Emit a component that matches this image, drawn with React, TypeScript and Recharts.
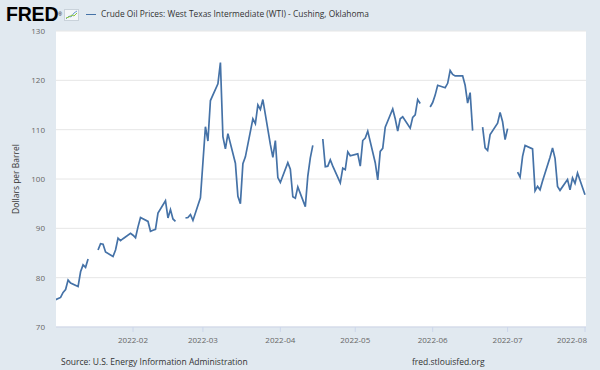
import { LineChart, Line, XAxis, YAxis, CartesianGrid } from 'recharts';

// observation dates (business days, holidays kept as null)
const dates = [
  '2021-12-31',
  '2022-01-03', '2022-01-04', '2022-01-05', '2022-01-06', '2022-01-07',
  '2022-01-10', '2022-01-11', '2022-01-12', '2022-01-13', '2022-01-14',
  '2022-01-17', '2022-01-18', '2022-01-19', '2022-01-20', '2022-01-21',
  '2022-01-24', '2022-01-25', '2022-01-26', '2022-01-27', '2022-01-28',
  '2022-01-31', '2022-02-01', '2022-02-02', '2022-02-03', '2022-02-04',
  '2022-02-07', '2022-02-08', '2022-02-09', '2022-02-10', '2022-02-11',
  '2022-02-14', '2022-02-15', '2022-02-16', '2022-02-17', '2022-02-18',
  '2022-02-21', '2022-02-22', '2022-02-23', '2022-02-24', '2022-02-25',
  '2022-02-28', '2022-03-01', '2022-03-02', '2022-03-03', '2022-03-04',
  '2022-03-07', '2022-03-08', '2022-03-09', '2022-03-10', '2022-03-11',
  '2022-03-14', '2022-03-15', '2022-03-16', '2022-03-17', '2022-03-18',
  '2022-03-21', '2022-03-22', '2022-03-23', '2022-03-24', '2022-03-25',
  '2022-03-28', '2022-03-29', '2022-03-30', '2022-03-31', '2022-04-01',
  '2022-04-04', '2022-04-05', '2022-04-06', '2022-04-07', '2022-04-08',
  '2022-04-11', '2022-04-12', '2022-04-13', '2022-04-14', '2022-04-15',
  '2022-04-18', '2022-04-19', '2022-04-20', '2022-04-21', '2022-04-22',
  '2022-04-25', '2022-04-26', '2022-04-27', '2022-04-28', '2022-04-29',
  '2022-05-02', '2022-05-03', '2022-05-04', '2022-05-05', '2022-05-06',
  '2022-05-09', '2022-05-10', '2022-05-11', '2022-05-12', '2022-05-13',
  '2022-05-16', '2022-05-17', '2022-05-18', '2022-05-19', '2022-05-20',
  '2022-05-23', '2022-05-24', '2022-05-25', '2022-05-26', '2022-05-27',
  '2022-05-30', '2022-05-31', '2022-06-01', '2022-06-02', '2022-06-03',
  '2022-06-06', '2022-06-07', '2022-06-08', '2022-06-09', '2022-06-10',
  '2022-06-13', '2022-06-14', '2022-06-15', '2022-06-16', '2022-06-17',
  '2022-06-20', '2022-06-21', '2022-06-22', '2022-06-23', '2022-06-24',
  '2022-06-27', '2022-06-28', '2022-06-29', '2022-06-30', '2022-07-01',
  '2022-07-04', '2022-07-05', '2022-07-06', '2022-07-07', '2022-07-08',
  '2022-07-11', '2022-07-12', '2022-07-13', '2022-07-14', '2022-07-15',
  '2022-07-18', '2022-07-19', '2022-07-20', '2022-07-21', '2022-07-22',
  '2022-07-25', '2022-07-26', '2022-07-27', '2022-07-28', '2022-07-29',
  '2022-08-01',
];

// dollars per barrel, same order as dates
const prices = [
  75.3,
  76.0, 77.0, 77.6, 79.5, 78.9,
  78.2, 81.2, 82.6, 82.1, 83.8,
  null, 85.6, 86.9, 86.8, 85.2,
  84.3, 85.6, 88.0, 87.5, 87.9,
  89.0, 88.6, 88.1, 90.3, 92.2,
  91.4, 89.4, 89.6, 89.8, 93.1,
  95.6, 92.1, 93.8, 91.9, 91.4,
  null, 92.1, 92.2, 92.8, 91.6,
  96.2, 103.4, 110.6, 107.7, 115.9,
  119.3, 123.6, 108.6, 106.1, 109.2,
  103.2, 96.5, 95.0, 103.1, 104.5,
  112.2, 111.2, 115.0, 114.1, 116.1,
  107.0, 104.4, 107.8, 100.3, 99.3,
  103.3, 102.0, 96.4, 96.1, 98.4,
  94.4, 100.6, 104.3, 106.8, null,
  108.1, 102.5, 102.6, 103.9, 102.6,
  99.2, 102.2, 101.9, 105.5, 104.7,
  105.1, 102.6, 107.8, 108.3, 109.7,
  103.3, 99.8, 105.6, 106.2, 110.5,
  114.2, 112.2, 109.7, 112.2, 112.6,
  110.3, 112.5, 113.0, 116.1, 115.3,
  null, 114.6, 115.5, 117.0, 119.0,
  118.5, 119.4, 122.0, 121.2, 120.9,
  120.9, 119.0, 115.4, 117.5, 109.8,
  null, 110.5, 106.3, 105.8, 109.0,
  111.3, 113.5, 111.6, 108.0, 110.2,
  null, 101.4, 100.4, 104.6, 106.8,
  106.1, 97.6, 98.5, 97.8, 99.6,
  104.4, 106.3, 104.2, 98.5, 97.7,
  99.9, 97.8, 100.2, 99.1, 101.2,
  96.8,
];

const monthTicks = ['2022-02-01', '2022-03-01', '2022-04-01', '2022-05-01', '2022-06-01', '2022-07-01', '2022-08-01'];
const monthLabels = ['2022-02', '2022-03', '2022-04', '2022-05', '2022-06', '2022-07', '2022-08'];
const yTicks = [70, 80, 90, 100, 110, 120, 130];

const DAY = 86400000;
const origin = Date.parse('2022-01-01');
const toDay = (d: string) => (Date.parse(d) - origin) / DAY;

const data = dates.map((d, i) => ({ day: toDay(d), value: prices[i] }));
const tickDays = monthTicks.map(toDay);

const font = '"Open Sans", "DejaVu Sans", sans-serif';

const MonthTick = (props: any) => {
  const { x, y, payload } = props;
  const i = tickDays.indexOf(payload.value);
  const last = i === tickDays.length - 1;
  return (
    <text
      x={last ? x + 2 : x}
      y={y}
      dy={8}
      textAnchor={last ? 'end' : 'middle'}
      fontSize={8}
      fill="#666"
      fontFamily={font}
    >
      {monthLabels[i]}
    </text>
  );
};

const FredIcon = () => (
  <svg width={15} height={12} style={{ position: 'absolute', left: 64, top: 9 }}>
    <rect x={0.5} y={0.5} width={14} height={11} fill="#f4f6f8" stroke="#c9d2da" />
    <polyline points="2,10 5,7 7,8 10,4 13,2" fill="none" stroke="#6a9bd1" strokeWidth={1} />
    <polyline points="2,9 5,8 8,6 10,7 13,4" fill="none" stroke="#8cc63f" strokeWidth={1} />
  </svg>
);

export default function App() {
  return (
    <div
      style={{
        position: 'absolute',
        left: 0,
        top: 0,
        width: 600,
        height: 370,
        background: '#e1e9f0',
        fontFamily: font,
        overflow: 'hidden',
      }}
    >
      <div
        style={{
          position: 'absolute',
          left: 6,
          top: 2,
          fontFamily: '"Liberation Sans", Arial, sans-serif',
          fontWeight: 900,
          fontSize: 19.5,
          letterSpacing: -0.2,
          color: '#000',
          lineHeight: '24px',
        }}
      >
        FRED
        <span style={{ fontSize: 5, fontWeight: 400, letterSpacing: 0, verticalAlign: 'bottom' }}>®</span>
      </div>
      <FredIcon />
      <div
        style={{
          position: 'absolute',
          left: 86,
          top: 14,
          width: 10,
          height: 0,
          borderTop: '1.5px solid #4572a7',
        }}
      />
      <div style={{ position: 'absolute', left: 101, top: 8, fontSize: 8.4, color: '#333', whiteSpace: 'nowrap', lineHeight: '12px' }}>
        Crude Oil Prices: West Texas Intermediate (WTI) - Cushing, Oklahoma
      </div>

      <div
        style={{
          position: 'absolute',
          left: 15,
          top: 179,
          transform: 'translate(-50%, -50%) rotate(-90deg)',
          fontSize: 8.5,
          color: '#333',
          whiteSpace: 'nowrap',
        }}
      >
        Dollars per Barrel
      </div>

      <div style={{ position: 'absolute', left: 61, top: 356, fontSize: 8.5, color: '#333', whiteSpace: 'nowrap', lineHeight: '12px' }}>
        Source: U.S. Energy Information Administration
      </div>
      <div style={{ position: 'absolute', left: 412, top: 356, fontSize: 8.5, color: '#333', whiteSpace: 'nowrap', lineHeight: '12px' }}>
        fred.stlouisfed.org
      </div>

      <div style={{ position: 'absolute', left: 0, top: 0 }}>
        <LineChart width={600} height={370} data={data} margin={{ top: 31, right: 14, left: 0, bottom: 23 }}>
          <CartesianGrid vertical={false} fill="#ffffff" fillOpacity={1} stroke="#e6e6e6" />
          <XAxis
            type="number"
            dataKey="day"
            domain={[0.16, 212.4]}
            allowDataOverflow
            ticks={tickDays}
            interval={0}
            height={20}
            stroke="#ccd6eb"
            tickSize={5}
            tickMargin={3}
            tick={<MonthTick />}
          />
          <YAxis
            type="number"
            domain={[70, 130]}
            ticks={yTicks}
            interval={0}
            width={56}
            axisLine={false}
            tickLine={false}
            tickMargin={5}
            tick={{ fontSize: 8, fill: '#666', fontFamily: font }}
          />
          <Line
            type="linear"
            dataKey="value"
            stroke="#4572a7"
            strokeWidth={1.7}
            dot={false}
            connectNulls={false}
            isAnimationActive={false}
          />
        </LineChart>
      </div>
    </div>
  );
}
